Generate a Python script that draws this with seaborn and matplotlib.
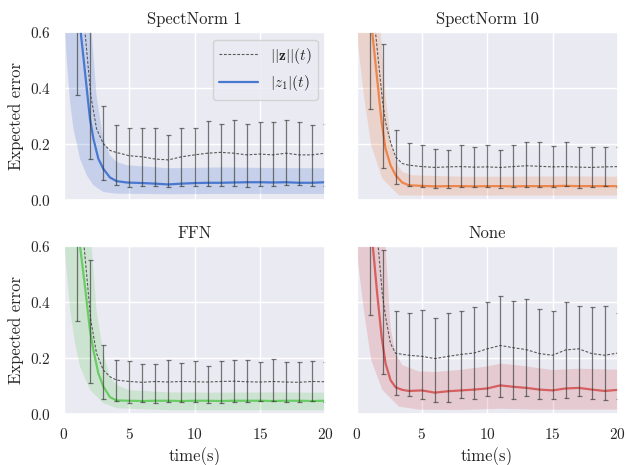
import numpy as np
import matplotlib
matplotlib.use("Agg")
import matplotlib.pyplot as plt
import seaborn as sns

TITLES = ["SpectNorm 1", "SpectNorm 10", "FFN", "None"]
ERR_T = list(range(1, 21))

# ---------------------------------------------------------------------------
# values (per panel)
# ---------------------------------------------------------------------------

# |z_1|(t) mean curve
sn1_t = [0, 1.29, 1.62, 2.0, 2.26, 2.64, 3.02, 3.53, 4.03, 4.8, 6, 7, 8, 9, 10, 11, 12, 13, 14, 15, 16, 17, 18, 19, 20]
sn1_z1 = [1.5, 0.60, 0.456, 0.289, 0.218, 0.146, 0.11, 0.079, 0.066, 0.061, 0.059, 0.057, 0.054, 0.057, 0.059, 0.060, 0.060, 0.061, 0.062, 0.062, 0.061, 0.062, 0.060, 0.060, 0.062]
sn10_t = [0, 1.2, 1.58, 1.92, 2.22, 2.6, 2.99, 3.5, 4.0, 5, 6, 7, 8, 9, 10, 11, 12, 13, 14, 15, 16, 17, 18, 19, 20]
sn10_z1 = [1.5, 0.60, 0.432, 0.277, 0.182, 0.123, 0.087, 0.061, 0.051, 0.049, 0.047, 0.048, 0.048, 0.047, 0.048, 0.048, 0.047, 0.048, 0.048, 0.048, 0.049, 0.048, 0.048, 0.048, 0.048]
ffn_t = [0, 1.24, 1.62, 2.0, 2.26, 2.64, 3.02, 3.53, 4.03, 5, 6, 7, 8, 9, 10, 11, 12, 13, 14, 15, 16, 17, 18, 19, 20]
ffn_z1 = [1.5, 0.60, 0.455, 0.30, 0.229, 0.145, 0.098, 0.06, 0.048, 0.047, 0.046, 0.047, 0.047, 0.046, 0.047, 0.047, 0.046, 0.047, 0.047, 0.047, 0.046, 0.047, 0.047, 0.046, 0.047]
none_t = [0, 1.25, 1.58, 1.92, 2.22, 2.6, 2.99, 3.5, 4, 5, 6, 7, 8, 9, 10, 11, 12, 13, 14, 15, 16, 17, 18, 19, 20]
none_z1 = [1.5, 0.60, 0.431, 0.276, 0.181, 0.121, 0.095, 0.086, 0.082, 0.084, 0.076, 0.081, 0.084, 0.087, 0.091, 0.102, 0.097, 0.093, 0.087, 0.084, 0.091, 0.093, 0.087, 0.082, 0.086]

# band around |z_1|(t)
sn1_lo_t = [0, 0.1, 0.23, 0.48, 0.73, 1.24, 1.75, 2.26, 3.02, 4.0, 8, 12, 16, 20]
sn1_lo = [0.65, 0.60, 0.492, 0.349, 0.254, 0.146, 0.087, 0.051, 0.027, 0.021, 0.019, 0.020, 0.020, 0.020]
sn1_hi_t = [0, 2.13, 2.5, 3.02, 3.53, 4.03, 4.8, 8, 12, 16, 20]
sn1_hi = [2.0, 0.60, 0.373, 0.218, 0.158, 0.135, 0.123, 0.112, 0.115, 0.113, 0.112]
sn10_lo_t = [0, 0.13, 0.56, 1.12, 1.97, 3.24, 4.5, 8, 12, 16, 20]
sn10_lo = [0.62, 0.551, 0.373, 0.194, 0.075, 0.015, 0.014, 0.014, 0.014, 0.014, 0.014]
sn10_hi_t = [0, 1.84, 2.22, 2.6, 2.99, 3.5, 4.26, 8, 12, 16, 20]
sn10_hi = [2.0, 0.60, 0.373, 0.218, 0.135, 0.099, 0.087, 0.082, 0.082, 0.083, 0.082]
ffn_lo_t = [0, 0.1, 0.48, 0.86, 1.24, 2.0, 3.02, 4.03, 8, 12, 16, 20]
ffn_lo = [0.62, 0.574, 0.371, 0.252, 0.169, 0.086, 0.038, 0.02, 0.013, 0.013, 0.013, 0.013]
ffn_hi_t = [0, 2.13, 2.5, 3.02, 3.53, 4.03, 5, 8, 12, 16, 20]
ffn_hi = [2.0, 0.60, 0.371, 0.217, 0.133, 0.104, 0.085, 0.077, 0.076, 0.077, 0.076]
none_lo_t = [0, 0.13, 0.56, 1.12, 1.97, 3.24, 4.77, 8, 11, 14, 17, 20]
none_lo = [0.60, 0.538, 0.371, 0.193, 0.086, 0.026, 0.015, 0.014, 0.018, 0.015, 0.015, 0.015]
none_hi_t = [0, 2.22, 2.6, 2.99, 3.5, 4.77, 6, 8, 10, 11, 12, 13, 15, 17, 20]
none_hi = [2.0, 0.60, 0.312, 0.217, 0.175, 0.152, 0.150, 0.158, 0.170, 0.180, 0.176, 0.170, 0.157, 0.162, 0.158]

# ||z||(t) dashed curve
sn1_nt = [0, 1.62, 2.06, 2.5, 3.02, 3.53, 4, 5, 6, 7, 8, 9, 10, 11, 12, 13, 14, 15, 16, 17, 18, 19, 20]
sn1_norm = [2.0, 0.60, 0.373, 0.254, 0.20, 0.176, 0.169, 0.157, 0.153, 0.145, 0.142, 0.153, 0.160, 0.166, 0.169, 0.166, 0.160, 0.163, 0.160, 0.166, 0.160, 0.160, 0.166]
sn10_nt = [0, 1.45, 1.97, 2.22, 2.6, 2.99, 3.5, 4, 5, 6, 7, 8, 9, 10, 11, 12, 13, 14, 15, 16, 17, 18, 19, 20]
sn10_norm = [2.0, 0.60, 0.36, 0.277, 0.206, 0.152, 0.129, 0.123, 0.118, 0.115, 0.117, 0.118, 0.116, 0.117, 0.115, 0.118, 0.121, 0.119, 0.117, 0.118, 0.116, 0.115, 0.117, 0.118]
ffn_nt = [0, 1.55, 2.06, 2.5, 3.02, 3.53, 4.03, 5, 6, 7, 8, 9, 10, 11, 12, 13, 14, 15, 16, 17, 18, 19, 20]
ffn_norm = [2.0, 0.60, 0.336, 0.217, 0.157, 0.133, 0.121, 0.116, 0.113, 0.116, 0.114, 0.116, 0.115, 0.114, 0.116, 0.117, 0.115, 0.114, 0.116, 0.114, 0.113, 0.116, 0.115]
none_nt = [0, 1.66, 1.97, 2.22, 2.6, 2.99, 4, 5, 6, 7, 8, 9, 10, 11, 12, 13, 14, 15, 16, 17, 18, 19, 20]
none_norm = [2.0, 0.60, 0.431, 0.348, 0.252, 0.217, 0.21, 0.206, 0.198, 0.206, 0.213, 0.218, 0.233, 0.245, 0.237, 0.23, 0.216, 0.21, 0.229, 0.233, 0.216, 0.21, 0.218]

# error bars on ||z|| at t = 1..20 (bottom, top)
sn1_eb_lo = [0.375, 0.145, 0.07, 0.052, 0.044, 0.047, 0.047, 0.044, 0.047, 0.049, 0.047, 0.049, 0.049, 0.044, 0.049, 0.049, 0.051, 0.051, 0.047, 0.047]
sn1_eb_hi = [0.95, 0.80, 0.336, 0.268, 0.255, 0.258, 0.255, 0.232, 0.258, 0.258, 0.282, 0.27, 0.286, 0.27, 0.279, 0.279, 0.285, 0.279, 0.268, 0.27]
sn10_eb_lo = [0.326, 0.112, 0.056, 0.048, 0.044, 0.042, 0.042, 0.044, 0.044, 0.044, 0.042, 0.044, 0.044, 0.046, 0.044, 0.048, 0.042, 0.044, 0.048, 0.046]
sn10_eb_hi = [0.95, 0.558, 0.249, 0.202, 0.195, 0.181, 0.177, 0.195, 0.187, 0.195, 0.177, 0.195, 0.205, 0.205, 0.192, 0.205, 0.187, 0.187, 0.19, 0.19]
ffn_eb_lo = [0.332, 0.112, 0.052, 0.045, 0.04, 0.042, 0.04, 0.042, 0.042, 0.042, 0.04, 0.04, 0.042, 0.042, 0.045, 0.045, 0.042, 0.042, 0.045, 0.043]
ffn_eb_hi = [0.95, 0.551, 0.248, 0.194, 0.189, 0.18, 0.178, 0.192, 0.182, 0.191, 0.171, 0.189, 0.194, 0.194, 0.187, 0.196, 0.187, 0.185, 0.189, 0.187]
none_eb_lo = [0.355, 0.142, 0.067, 0.063, 0.052, 0.043, 0.043, 0.057, 0.052, 0.063, 0.061, 0.052, 0.064, 0.052, 0.052, 0.057, 0.064, 0.052, 0.049, 0.055]
none_eb_hi = [0.95, 0.588, 0.367, 0.362, 0.373, 0.343, 0.361, 0.368, 0.382, 0.40, 0.421, 0.404, 0.41, 0.374, 0.37, 0.402, 0.386, 0.382, 0.388, 0.36]


panels = [
    (sn1_t, sn1_z1, sn1_lo_t, sn1_lo, sn1_hi_t, sn1_hi, sn1_nt, sn1_norm, sn1_eb_lo, sn1_eb_hi),
    (sn10_t, sn10_z1, sn10_lo_t, sn10_lo, sn10_hi_t, sn10_hi, sn10_nt, sn10_norm, sn10_eb_lo, sn10_eb_hi),
    (ffn_t, ffn_z1, ffn_lo_t, ffn_lo, ffn_hi_t, ffn_hi, ffn_nt, ffn_norm, ffn_eb_lo, ffn_eb_hi),
    (none_t, none_z1, none_lo_t, none_lo, none_hi_t, none_hi, none_nt, none_norm, none_eb_lo, none_eb_hi),
]

sns.set_theme(style="darkgrid", palette="muted")
plt.rcParams["font.family"] = "serif"
plt.rcParams["font.serif"] = ["cmr10", "DejaVu Serif"]
plt.rcParams["mathtext.fontset"] = "cm"
plt.rcParams["axes.formatter.use_mathtext"] = True
colors = sns.color_palette("muted")

fig, axes = plt.subplots(2, 2, figsize=(6.26, 4.65), dpi=100, sharex=True, sharey=True)
fig.subplots_adjust(left=0.102, right=0.987, top=0.931, bottom=0.11, wspace=0.12, hspace=0.28)

grid = np.linspace(0, 20, 801)
for i, (ax, title, data) in enumerate(zip(axes.flat, TITLES, panels)):
    t, z1, lo_t, lo, hi_t, hi, nt, norm, eb_lo, eb_hi = data
    col = colors[i]

    # band (evaluated on a shared grid so fill_between has matching x)
    ax.fill_between(grid, np.interp(grid, lo_t, lo), np.interp(grid, hi_t, hi),
                    color=col, alpha=0.22, linewidth=0)

    sns.lineplot(x=nt, y=norm, ax=ax, color="0.35", linewidth=0.8,
                 linestyle=(0, (2.5, 1.5)), label=r"$||\mathbf{z}||(t)$")
    sns.lineplot(x=t, y=z1, ax=ax, color=col, linewidth=1.6, label=r"$|z_1|(t)$")

    lo_a, hi_a = np.array(eb_lo), np.array(eb_hi)
    mid = (lo_a + hi_a) / 2
    ax.errorbar(ERR_T, mid, yerr=(hi_a - lo_a) / 2, fmt="none", ecolor="0.2", alpha=0.65,
                elinewidth=0.9, capsize=1.8, capthick=0.9)

    ax.set_title(title, fontsize=12)
    ax.set_xlim(0, 20)
    ax.set_ylim(0, 0.6)
    ax.set_xticks([0, 5, 10, 15, 20])
    ax.set_yticks([0.0, 0.2, 0.4, 0.6])
    ax.tick_params(labelsize=11)
    ax.set_xlabel("")
    ax.set_ylabel("")
    if i == 0:
        ax.legend(loc="upper right", fontsize=11, handlelength=2.5)
    else:
        ax.get_legend().remove()

for ax in axes[:, 0]:
    ax.set_ylabel("Expected error", fontsize=12)
for ax in axes[1, :]:
    ax.set_xlabel("time(s)", fontsize=12)

fig.savefig("out.png", dpi=100)
